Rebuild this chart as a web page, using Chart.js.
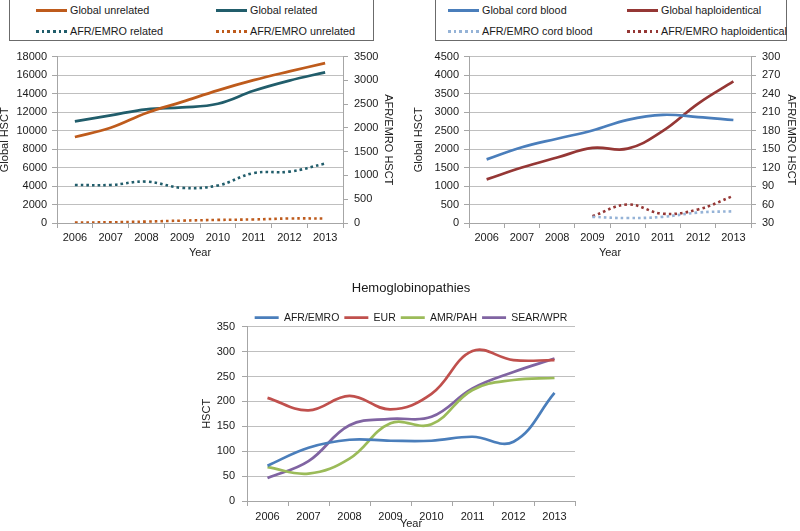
<!DOCTYPE html>
<html><head><meta charset="utf-8">
<script src="https://cdn.jsdelivr.net/npm/chart.js@4.4.1/dist/chart.umd.min.js"></script>
<style>
html,body{margin:0;padding:0;background:#fff;width:800px;height:531px;overflow:hidden;position:relative;font-family:'Liberation Sans',Arial,sans-serif;}
canvas{position:absolute;}
.legend{position:absolute;border:1px solid #6b6b6b;box-sizing:border-box;font-size:10.8px;color:#1a1a1a;}
.item{position:absolute;height:14px;display:flex;align-items:center;white-space:nowrap;}
.swatch{display:inline-block;width:31px;height:3px;margin-right:3px;}
</style></head><body>
<div id="leg1" class="legend" style="left:9px;top:-1px;width:365px;height:42px"></div>
<div id="leg2" class="legend" style="left:435px;top:-1px;width:352px;height:42px"></div>
<canvas id="c1" width="402" height="228" style="left:-2px;top:44px"></canvas>
<canvas id="c2" width="400" height="228" style="left:400px;top:44px"></canvas>
<canvas id="c3" width="420" height="253" style="left:190px;top:278px"></canvas>
<script>
// ---- data ----
const years = ['2006','2007','2008','2009','2010','2011','2012','2013'];
// chart 1
const globalUnrelated = [9300, 10300, 11900, 13100, 14350, 15450, 16400, 17300];
const globalRelated   = [11000, 11650, 12300, 12500, 12900, 14300, 15400, 16300];
const afrRelated      = [800, 800, 870, 740, 790, 1050, 1080, 1250];
const afrUnrelated    = [10, 15, 30, 50, 65, 75, 95, 95];
// chart 2
const globalCord  = [1720, 2050, 2280, 2500, 2790, 2925, 2865, 2785];
const globalHaplo = [1180, 1500, 1770, 2030, 2010, 2490, 3230, 3830];
const afrCord     = [null, null, null, 40, 38, 40, 47, 49];
const afrHaplo    = [null, null, null, 41, 60, 45, 52, 74];
// chart 3
const hemoTitle = 'Hemoglobinopathies';
const afrEmro = [71, 107, 123, 121, 121, 129, 119, 217];
const eur     = [207, 182, 211, 184, 215, 301, 283, 283];
const amrPah  = [68, 55, 85, 156, 154, 223, 243, 247];
const searWpr = [46, 80, 152, 165, 169, 226, 259, 286];

// ---- styles ----
const ORANGE = '#BE5B1C', TEAL = '#215D6B', BLUE = '#4A7EBB', DRED = '#953735', LBLUE = '#95B3D7';
const RED = '#C0504D', GREEN = '#9BBB59', PURPLE = '#8064A2';
const GRID = '#BFBFBF', AXIS = '#A6A6A6';
const DOT = [2.6, 3.1];

Chart.defaults.font.family = "'Liberation Sans', Arial, sans-serif";
Chart.defaults.font.size = 11;
Chart.defaults.color = '#1a1a1a';

function fixW(w){ return s => { s.width = w; }; }
function fixH(h){ return s => { s.height = h; }; }

function htmlLegend(id, items, xs){
  const el = document.getElementById(id);
  items.forEach((it, i) => {
    const d = document.createElement('div');
    d.className = 'item';
    d.style.left = xs[i % 2] + 'px';
    d.style.top = (i < 2 ? 3 : 24) + 'px';
    const sw = document.createElement('span');
    sw.className = 'swatch';
    if (it.dotted) {
      sw.style.background = `repeating-linear-gradient(to right, ${it.color} 0 2.6px, transparent 2.6px 5.7px)`;
    } else {
      sw.style.background = it.color;
    }
    d.appendChild(sw);
    const t = document.createElement('span');
    t.textContent = it.label;
    d.appendChild(t);
    el.appendChild(d);
  });
}

function xScale(h, tpadBottom, tickPad){
  return {
    offset: true,
    grid: { offset: true, drawOnChartArea: false, drawTicks: true, tickLength: 5, color: AXIS },
    border: { color: AXIS },
    ticks: { padding: tickPad, maxRotation: 0, autoSkip: false },
    title: { display: true, text: 'Year', padding: { top: 0, bottom: tpadBottom } },
    afterFit: fixH(h)
  };
}
function yScale(pos, min, max, step, title, w, tpad, tickPad, onArea){
  return {
    position: pos, min: min, max: max,
    ticks: { stepSize: step, padding: tickPad, callback: v => String(v) },
    grid: { drawOnChartArea: onArea, color: onArea ? GRID : AXIS, tickColor: AXIS, tickLength: 5 },
    border: { color: AXIS },
    title: { display: true, text: title, padding: { top: tpad, bottom: 0 } },
    afterFit: fixW(w)
  };
}
function ds(label, data, color, axis, dotted){
  return {
    label: label, data: data, borderColor: color, backgroundColor: color,
    yAxisID: axis, borderWidth: dotted ? 2.6 : 2.7,
    borderDash: dotted ? DOT : [], pointRadius: 0, tension: 0.4,
    fill: false, spanGaps: false
  };
}
const commonPlugins = { legend: { display: false }, tooltip: { enabled: false } };

// ---- chart 1 ----
const c1sets = [
  ds('Global unrelated', globalUnrelated, ORANGE, 'y', false),
  ds('Global related', globalRelated, TEAL, 'y', false),
  ds('AFR/EMRO related', afrRelated, TEAL, 'y1', true),
  ds('AFR/EMRO unrelated', afrUnrelated, ORANGE, 'y1', true)
];
new Chart(document.getElementById('c1'), {
  type: 'line',
  data: { labels: years, datasets: c1sets },
  options: {
    responsive: false, animation: false,
    layout: { padding: { top: 8, left: 0, right: 0, bottom: 0 } },
    plugins: commonPlugins,
    scales: {
      x: xScale(49, 12, 3),
      y: yScale('left', 0, 18000, 2000, 'Global HSCT', 59, 0, 5, true),
      y1: yScale('right', 0, 3500, 500, 'AFR/EMRO HSCT', 57, 5, 6, false)
    }
  }
});
htmlLegend('leg1', c1sets.map(d => ({label: d.label, color: d.borderColor, dotted: d.borderDash.length > 0})), [26, 206]);

// ---- chart 2 ----
const c2sets = [
  ds('Global cord blood', globalCord, BLUE, 'y', false),
  ds('Global haploidentical', globalHaplo, DRED, 'y', false),
  ds('AFR/EMRO cord blood', afrCord, LBLUE, 'y1', true),
  ds('AFR/EMRO haploidentical', afrHaplo, DRED, 'y1', true)
];
new Chart(document.getElementById('c2'), {
  type: 'line',
  data: { labels: years, datasets: c2sets },
  options: {
    responsive: false, animation: false,
    layout: { padding: { top: 8, left: 0, right: 0, bottom: 0 } },
    plugins: commonPlugins,
    scales: {
      x: xScale(49, 12, 3),
      y: yScale('left', 0, 4500, 500, 'Global HSCT', 69, 12, 5, true),
      y1: yScale('right', 30, 300, 30, 'AFR/EMRO HSCT', 49, 2, 6, false)
    }
  }
});
htmlLegend('leg2', c2sets.map(d => ({label: d.label, color: d.borderColor, dotted: d.borderDash.length > 0})), [12, 191]);

// ---- chart 3 ----
new Chart(document.getElementById('c3'), {
  type: 'line',
  data: { labels: years, datasets: [
    ds('AFR/EMRO', afrEmro, BLUE, 'y', false),
    ds('EUR', eur, RED, 'y', false),
    ds('AMR/PAH', amrPah, GREEN, 'y', false),
    ds('SEAR/WPR', searWpr, PURPLE, 'y', false)
  ]},
  options: {
    responsive: false, animation: false,
    layout: { padding: { top: 0, left: 0, right: 35, bottom: 0 } },
    plugins: {
      tooltip: { enabled: false },
      title: { display: true, text: hemoTitle, fullSize: false, font: { size: 13, weight: 'normal' }, color: '#1a1a1a', padding: { top: 3, bottom: 10.8 } },
      legend: { display: true, position: 'top', fullSize: false, maxHeight: 19.3,
        labels: { usePointStyle: true, pointStyle: 'line', pointStyleWidth: 24, padding: 5, font: { size: 10.5 } } }
    },
    scales: {
      x: xScale(30, 0, 4),
      y: yScale('left', 0, 350, 50, 'HSCT', 57, 10, 7, true)
    }
  }
});
</script>
</body></html>
